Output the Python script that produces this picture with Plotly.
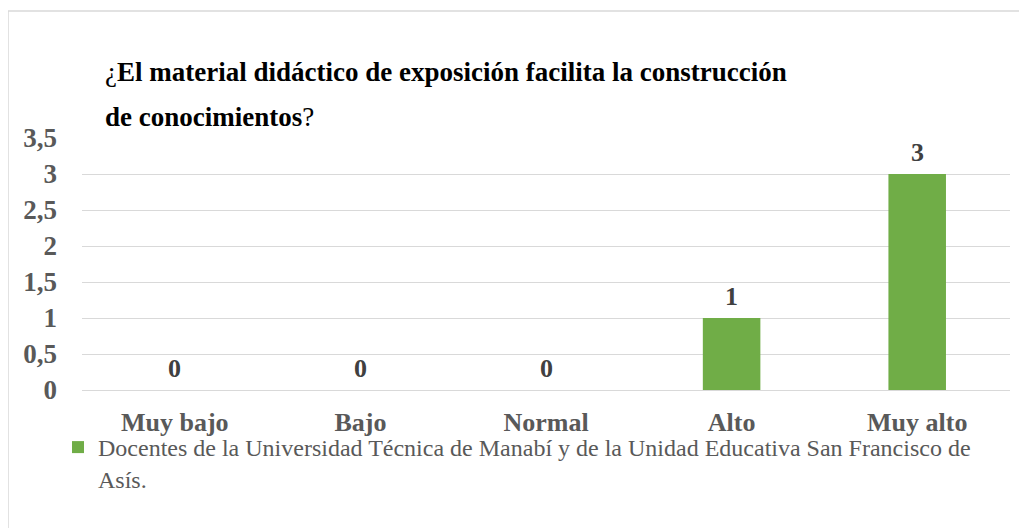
import plotly.graph_objects as go

categories = ["Muy bajo", "Bajo", "Normal", "Alto", "Muy alto"]
values = [0, 0, 0, 1, 3]
series_name = "Docentes de la Universidad Técnica de Manabí y de la Unidad Educativa San Francisco de<br>Asís."
y_ticks = [0, 0.5, 1, 1.5, 2, 2.5, 3, 3.5]
y_tick_labels = ["0", "0,5", "1", "1,5", "2", "2,5", "3", "3,5"]

SERIF = "Liberation Serif"
GREEN = "#70AD47"
GREY = "#595959"

# page-pixel helpers (page has an 8px body margin)
PL, PR, PT, PB = 82, 1010, 138, 390
def px(x):
    return (x - PL) / (PR - PL)
def py(y):
    return (PB - y) / (PB - PT)

fig = go.Figure()
fig.add_trace(go.Bar(
    x=categories, y=values, name=series_name,
    marker=dict(color=GREEN, line=dict(width=0)),
    showlegend=True,
))

for c, v in zip(categories, values):
    fig.add_annotation(x=c, y=v, xref="x", yref="y", text=f"<b>{v}</b>",
                       showarrow=False, yanchor="bottom", yshift=5,
                       font=dict(family=SERIF, size=26, color="#404040"))

# title
fig.add_annotation(xref="paper", yref="paper", xanchor="left", yanchor="middle",
                   x=px(103), y=py(72),
                   text="¿<b>El material didáctico de exposición facilita la construcción</b>",
                   showarrow=False, font=dict(family=SERIF, size=27, color="#000000"))
fig.add_annotation(xref="paper", yref="paper", xanchor="left", yanchor="middle",
                   x=px(103), y=py(117),
                   text="<b>de conocimientos</b>?",
                   showarrow=False, font=dict(family=SERIF, size=27, color="#000000"))

fig.update_layout(
    width=1019, height=520,
    margin=dict(l=PL - 8, r=1019 - (PR - 8), t=PT - 8, b=520 - (PB - 8)),
    paper_bgcolor="white", plot_bgcolor="white",
    bargap=0.69,
    xaxis=dict(showgrid=False, showline=False, ticks="", zeroline=False,
               tickfont=dict(family=SERIF, size=26, color=GREY),
               ticklabelstandoff=14),
    yaxis=dict(range=[0, 3.5], tickvals=y_ticks, ticktext=[f"<b>{t}</b>" for t in y_tick_labels],
               showgrid=True, gridcolor="#D9D9D9", gridwidth=1.3,
               zeroline=True, zerolinecolor="#D9D9D9", zerolinewidth=1.3,
               showline=False, ticks="", ticklabelstandoff=24,
               tickfont=dict(family=SERIF, size=27, color=GREY)),
    legend=dict(orientation="h", x=px(58), xanchor="left", y=py(425), yanchor="top",
                font=dict(family=SERIF, size=24, color=GREY), valign="top",
                itemwidth=30, bgcolor="rgba(0,0,0,0)"),
    shapes=[dict(type="rect", xref="paper", yref="paper",
                 x0=px(8), x1=px(1100), y0=py(600), y1=py(11),
                 line=dict(color="#D9D9D9", width=1.5), fillcolor="rgba(0,0,0,0)", layer="below")],
)
fig.update_xaxes(tickprefix="<b>", ticksuffix="</b>")

fig.write_html("out.html")
